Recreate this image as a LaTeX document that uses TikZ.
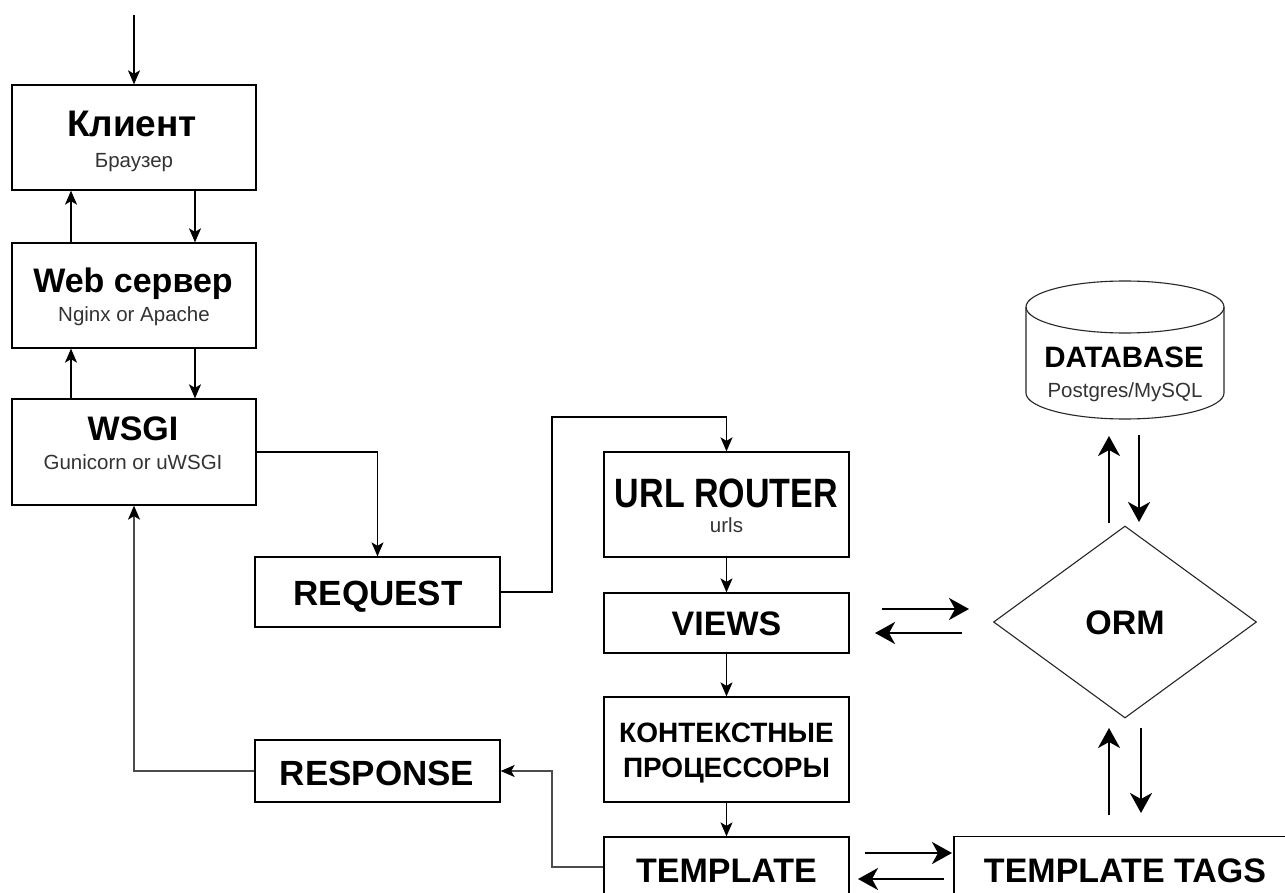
\documentclass[tikz,border=0pt]{standalone}
\usepackage{fontspec}
\setmainfont{Liberation Sans}
\usepackage{graphicx}
\usetikzlibrary{arrows.meta,shapes.geometric}
\begin{document}
\begin{tikzpicture}[x=1pt,y=-1pt,
  box/.style={draw, line width=1.3pt, inner sep=0pt},
  title/.style={font=\fontsize{34}{40}\selectfont\bfseries, inner sep=0pt, anchor=base},
  subt/.style={font=\fontsize{20.5}{24}\selectfont, text=black!80, inner sep=0pt, anchor=base},
  arr/.style={line width=1.3pt, -{Stealth[length=14pt,width=12pt,inset=3.5pt]}},
  garr/.style={line width=1.7pt, draw=black!70, -{Stealth[length=14pt,width=12pt,inset=3.5pt,color=black]}},
  tarr/.style={line width=2.4pt, -{Stealth[length=20pt,width=22pt,inset=6pt]}}
]
\useasboundingbox (0,0) rectangle (1285,893);
\clip (0,0) rectangle (1285,893);
\fill[white] (0,0) rectangle (1285,893);

% left column
\node[box, minimum width=244pt, minimum height=105pt] (client) at (134,137.5) {};
\node[box, minimum width=244pt, minimum height=105pt] (web) at (134,295.5) {};
\node[box, minimum width=244pt, minimum height=106pt] (wsgi) at (134,452) {};
\node[title, font=\fontsize{37}{42}\selectfont\bfseries] (client-t) at (132,137) {Клиент};
\node[subt] (client-s) at (134,168) {Браузер};
\node[title] (web-t) at (133,293) {Web сервер};
\node[subt] (web-s) at (134,322) {Nginx or Apache};
\node[title] (wsgi-t) at (133,440) {WSGI};
\node[subt] (wsgi-s) at (133,469) {Gunicorn or uWSGI};

% request / response
\node[box, minimum width=245pt, minimum height=70pt] (request) at (377.5,592) {};
\node[title, font=\fontsize{35}{40}\selectfont\bfseries] (request-t) at (378,605) {REQUEST};
\node[box, minimum width=245pt, minimum height=62pt] (response) at (377.5,771) {};
\node[title, font=\fontsize{35}{40}\selectfont\bfseries] (response-t) at (377,785) {RESPONSE};

% middle column
\node[box, minimum width=245pt, minimum height=105pt] (url) at (726.5,504.5) {};
\node[inner sep=0pt, anchor=base, font=\fontsize{41}{46}\selectfont\bfseries] (url-t) at (726.5,507) {\scalebox{0.83}[1]{URL ROUTER}};
\node[subt] (url-s) at (726.5,532) {urls};
\node[box, minimum width=245pt, minimum height=60pt] (views) at (726.5,623) {};
\node[title] (views-t) at (726.5,635) {VIEWS};
\node[box, minimum width=245pt, minimum height=105pt] (kont) at (726.5,749.5) {};
\node[inner sep=0pt, anchor=base, font=\fontsize{28}{32}\selectfont\bfseries] (kont-t1) at (726.5,742) {КОНТЕКСТНЫЕ};
\node[inner sep=0pt, anchor=base, font=\fontsize{28}{32}\selectfont\bfseries] (kont-t2) at (726.5,777) {ПРОЦЕССОРЫ};
\node[box, minimum width=245pt, minimum height=60pt] (template) at (726.5,867) {};
\node[title] (template-t) at (726.5,882) {TEMPLATE};

% right column
\node[box, minimum width=342pt, minimum height=60pt] (tags) at (1125,866.5) {};
\node[title] (tags-t) at (1125,882) {TEMPLATE TAGS};
\node[diamond, draw=black!85, line width=1.1pt, aspect=1.37, minimum width=263pt, minimum height=192pt, inner sep=0pt] (orm) at (1125,622) {};
\node[title] (orm-t) at (1125,634) {ORM};

% database cylinder
\fill[white] (1026,307) -- (1026,393) arc[start angle=180,end angle=0,x radius=99,y radius=26] -- (1224,307) -- cycle;
\draw[line width=1.1pt, black!85] (1125,307) ellipse[x radius=99, y radius=26];
\draw[line width=1.1pt, black!85] (1026,307) -- (1026,393) arc[start angle=180,end angle=0,x radius=99,y radius=26] -- (1224,307);
\node[inner sep=0pt, anchor=base, font=\fontsize{29.5}{34}\selectfont\bfseries] (db-t) at (1124,367) {DATABASE};
\node[subt] (db-s) at (1125,397) {Postgres/MySQL};

% connectors (thin)
\coordinate (start) at (134,15);
\draw[arr] (start) -- (client.north);
\draw[arr] ([xshift=61pt]client.south) -- ([xshift=61pt]web.north);
\draw[arr] ([xshift=-63pt]web.north) -- ([xshift=-63pt]client.south);
\draw[arr] ([xshift=61pt]web.south) -- ([xshift=61pt]wsgi.north);
\draw[arr] ([xshift=-63pt]wsgi.north) -- ([xshift=-63pt]web.south);
\draw[arr] (wsgi.east) -| (request.north);
\coordinate (r1) at (552,417);
\draw[arr] (request.east) -| (r1) -| (url.north);
\draw[arr] (url.south) -- (views.north);
\draw[arr] (views.south) -- (kont.north);
\draw[arr] (kont.south) -- (template.north);
\coordinate (r2) at (552,867);
\draw[garr] (template.west) -- (r2) |- (response.east);
\draw[garr] (response.west) -| (wsgi.south);

% thick arrows
\coordinate (vo1) at (882,609); \coordinate (vo2) at (969,609);
\coordinate (ov1) at (962,633); \coordinate (ov2) at (875,633);
\draw[tarr] (vo1) -- (vo2);
\draw[tarr] (ov1) -- (ov2);
\coordinate (od1) at (1109,523); \coordinate (od2) at (1109,436);
\coordinate (do1) at (1139,435); \coordinate (do2) at (1139,522);
\draw[tarr] (od1) -- (od2);
\draw[tarr] (do1) -- (do2);
\coordinate (to1) at (1109,815); \coordinate (to2) at (1109,728);
\coordinate (ot1) at (1141,728); \coordinate (ot2) at (1141,813);
\draw[tarr] (to1) -- (to2);
\draw[tarr] (ot1) -- (ot2);
\coordinate (tt1) at (865,853); \coordinate (tt2) at (952,853);
\coordinate (tt3) at (944,879); \coordinate (tt4) at (858,879);
\draw[tarr] (tt1) -- (tt2);
\draw[tarr] (tt3) -- (tt4);
\end{tikzpicture}
\end{document}
